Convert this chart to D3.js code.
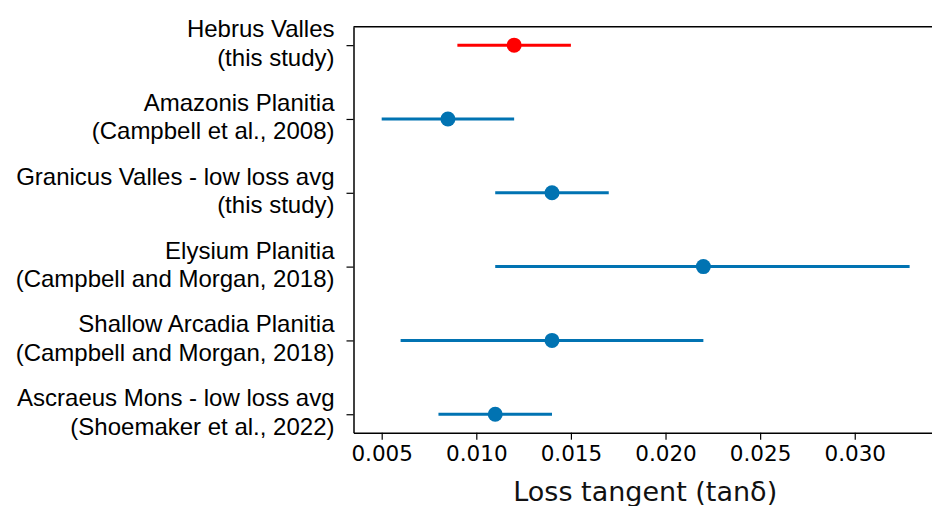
<!DOCTYPE html>
<html><head><meta charset="utf-8">
<script src="https://cdn.jsdelivr.net/npm/d3@7"></script>
<style>body{margin:0;background:#fff}svg{display:block}</style>
</head><body><svg id="c" width="932" height="506"></svg>
<script>
// ---- data ----
const siteNames = ["Hebrus Valles", "Amazonis Planitia", "Granicus Valles - low loss avg", "Elysium Planitia", "Shallow Arcadia Planitia", "Ascraeus Mons - low loss avg"];
const siteSources = ["(this study)", "(Campbell et al., 2008)", "(this study)", "(Campbell and Morgan, 2018)", "(Campbell and Morgan, 2018)", "(Shoemaker et al., 2022)"];
const lossCenter = [0.012, 0.0085, 0.014, 0.022, 0.014, 0.011];
const lossLow = [0.009, 0.005, 0.011, 0.011, 0.006, 0.008];
const lossHigh = [0.015, 0.012, 0.017, 0.0329, 0.022, 0.014];
const xTickValues = [0.005, 0.010, 0.015, 0.020, 0.025, 0.030];
const xTitle = "Loss tangent (tanδ)";

// ---- style ----
const pointColors = ["#ff0000", "#0173b2", "#0173b2", "#0173b2", "#0173b2", "#0173b2"];

const svg = d3.select("#c");
const pLeft = 353.5, pRight = 938, pTop = 26.7, pBottom = 432.7;

const x = d3.scaleLinear().domain([0.00351, 0.0344]).range([pLeft, pRight]);
const y = d3.scaleLinear().domain([-0.25, siteNames.length - 0.75]).range([pTop, pBottom]);
const idx = d3.range(siteNames.length);

// top / right spines
svg.append("line").attr("x1", pLeft).attr("x2", pRight).attr("y1", pTop).attr("y2", pTop)
  .attr("stroke", "#000").attr("stroke-width", 1.5);
svg.append("line").attr("x1", pRight).attr("x2", pRight).attr("y1", pTop).attr("y2", pBottom)
  .attr("stroke", "#000").attr("stroke-width", 1.5);

// x axis
const gx = svg.append("g").attr("transform", `translate(0,${pBottom})`)
  .call(d3.axisBottom(x).tickValues(xTickValues).tickFormat(d3.format(".3f")).tickSize(7).tickSizeOuter(0).tickPadding(6));
gx.select(".domain").attr("stroke-width", 1.5);
gx.selectAll(".tick line").attr("stroke-width", 1.2);
gx.selectAll(".tick text").attr("font-family", "DejaVu Sans").attr("font-size", 21.5).attr("fill", "#000");

// y axis
const gy = svg.append("g").attr("transform", `translate(${pLeft},0)`)
  .call(d3.axisLeft(y).tickValues(idx).tickFormat("").tickSize(7).tickSizeOuter(0));
gy.select(".domain").attr("stroke-width", 1.5);
gy.selectAll(".tick line").attr("stroke-width", 1.2);
gy.selectAll(".tick").each(function(d) {
  const t = d3.select(this).append("text")
    .attr("text-anchor", "end")
    .attr("font-family", "Liberation Sans, Arial, sans-serif")
    .attr("font-size", 24)
    .attr("fill", "#000");
  t.append("tspan").attr("x", -19).attr("y", -8.5).text(siteNames[d]);
  t.append("tspan").attr("x", -19).attr("y", 20).text(siteSources[d]);
});

// x title
svg.append("text").attr("x", (x(0.005) + x(0.030)) / 2 + 27).attr("y", 501)
  .attr("text-anchor", "middle").attr("font-family", "DejaVu Sans").attr("font-size", 27)
  .attr("fill", "#111").text(xTitle);

// error bars and points
const g = svg.append("g");
g.selectAll("line.err").data(idx).join("line").attr("class", "err")
  .attr("x1", i => x(lossLow[i])).attr("x2", i => x(lossHigh[i]))
  .attr("y1", i => y(i)).attr("y2", i => y(i))
  .attr("stroke", i => pointColors[i]).attr("stroke-width", 3);
g.selectAll("circle").data(idx).join("circle")
  .attr("cx", i => x(lossCenter[i])).attr("cy", i => y(i)).attr("r", 7.5)
  .attr("fill", i => pointColors[i]);
</script></body></html>
